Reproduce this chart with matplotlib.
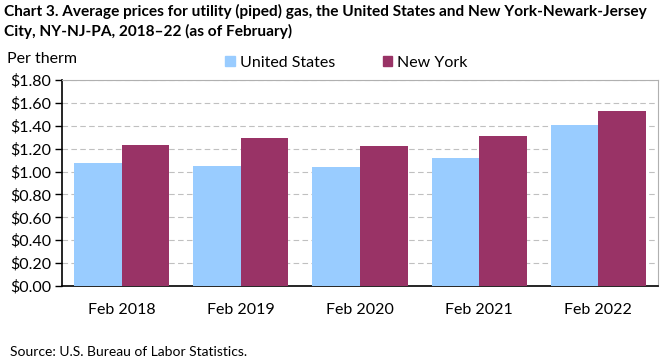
import numpy as np
import matplotlib
matplotlib.use("Agg")
import matplotlib.pyplot as plt
from matplotlib.patches import Patch

# Data (per therm, as of February)
years = ["Feb 2018", "Feb 2019", "Feb 2020", "Feb 2021", "Feb 2022"]
us_prices = [1.077, 1.051, 1.042, 1.121, 1.410]
ny_prices = [1.235, 1.296, 1.226, 1.314, 1.533]
y_ticks = [0.0, 0.2, 0.4, 0.6, 0.8, 1.0, 1.2, 1.4, 1.6, 1.8]

us_color = "#99ccff"
ny_color = "#993366"

plt.rcParams["font.family"] = ["Lato", "DejaVu Sans"]

fig = plt.figure(figsize=(6.61, 3.61), dpi=100)
ax = fig.add_axes([62 / 661, 1 - 286 / 361, (658 - 62) / 661, (286 - 80) / 361])

x = np.arange(len(years))
w = 0.4
ax.bar(x - w / 2, us_prices, width=w, color=us_color, zorder=3)
ax.bar(x + w / 2, ny_prices, width=w, color=ny_color, zorder=3)

ax.set_xlim(-0.5, len(years) - 0.5)
ax.set_ylim(0, 1.8)
ax.set_yticks(y_ticks)
ax.set_yticklabels(["${:.2f}".format(v) for v in y_ticks], fontsize=11.5)
ax.set_xticks(x)
ax.set_xticklabels(years, fontsize=11.5)
ax.tick_params(axis="x", length=0, pad=12)
ax.tick_params(axis="y", length=5, width=1, color="black", pad=3)

ax.yaxis.grid(True, color="#c0c0c0", linestyle=(0, (5, 3)), linewidth=0.8, zorder=0)
ax.spines["left"].set_color("black")
ax.spines["bottom"].set_color("black")
ax.spines["left"].set_linewidth(1.2)
ax.spines["bottom"].set_linewidth(1.2)
ax.spines["top"].set_color("#b0b0b0")
ax.spines["right"].set_color("#b0b0b0")

fig.text(4 / 661, 1 - 4 / 361,
         "Chart 3. Average prices for utility (piped) gas, the United States and New York-Newark-Jersey\n"
         "City, NY-NJ-PA, 2018\u201322 (as of February)",
         fontsize=11.1, fontweight="bold", va="top", ha="left", linespacing=1.42)
fig.text(7 / 661, 1 - 59 / 361, "Per therm", fontsize=11.5, va="center", ha="left")

handles = [Patch(color=us_color, label="United States"), Patch(color=ny_color, label="New York")]
fig.legend(handles=handles, loc="center left", bbox_to_anchor=(211 / 661, 1 - 63 / 361),
           ncol=2, frameon=False, fontsize=11.5, handlelength=0.6, handleheight=0.6,
           handletextpad=0.3, columnspacing=3.0)

fig.text(10 / 661, 1 - 352 / 361, "Source: U.S. Bureau of Labor Statistics.", fontsize=10,
         va="center", ha="left")

fig.savefig("out.png", dpi=100)
